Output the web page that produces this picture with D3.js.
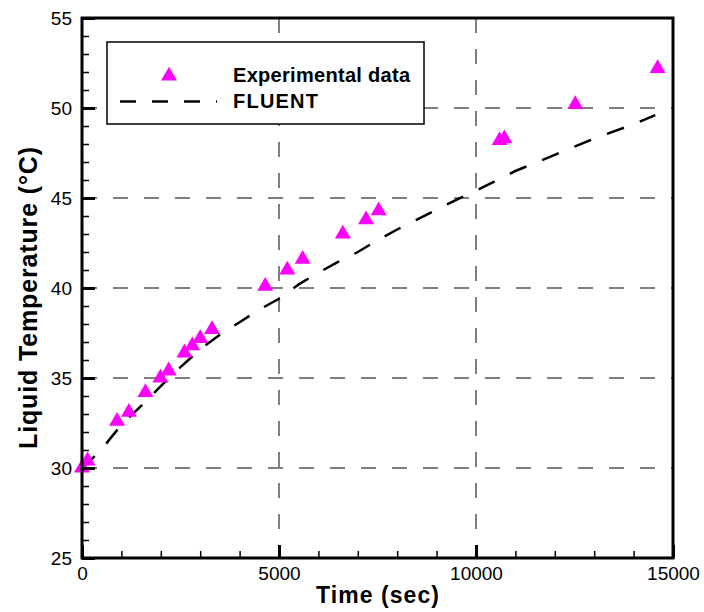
<!DOCTYPE html>
<html>
<head>
<meta charset="utf-8">
<script src="https://cdn.jsdelivr.net/npm/d3@7"></script>
<style>
  body { margin: 0; background: #fff; }
  text { font-family: Arial, "Liberation Sans", sans-serif; fill: #000; }
</style>
</head>
<body>
<div id="chart"></div>
<script>
// experimental points
const expTime = [0, 140, 890, 1190, 1610, 1990, 2200, 2600, 2800, 3000, 3300,
                 4650, 5210, 5600, 6620, 7210, 7530, 10600, 10720, 12520, 14610];
const expTemp = [30.0, 30.4, 32.6, 33.1, 34.2, 35.0, 35.4, 36.4, 36.8, 37.2, 37.7,
                 40.1, 41.0, 41.6, 43.0, 43.8, 44.3, 48.2, 48.3, 50.2, 52.2];

// FLUENT curve
const fluentTime = [0, 500, 1000, 1500, 2000, 2500, 3000, 3500, 4000, 4500, 5000,
                    5500, 6000, 6500, 7000, 7500, 8000, 8500, 9000, 9500, 10000,
                    10500, 11000, 11500, 12000, 12500, 13000, 13500, 14000, 14550];
const fluentTemp = [29.95, 31.05, 32.4, 33.45, 34.55, 35.6, 36.6, 37.4, 38.1, 38.8, 39.4,
                    40.2, 40.85, 41.45, 42.0, 42.65, 43.25, 43.8, 44.35, 44.9, 45.4,
                    45.95, 46.5, 46.95, 47.4, 47.85, 48.3, 48.7, 49.1, 49.6];

const xTicks = [0, 5000, 10000, 15000];
const yTicks = [25, 30, 35, 40, 45, 50, 55];

const width = 704, height = 612;
const plotLeft = 82, plotRight = 673, plotTop = 18, plotBottom = 558;

const svg = d3.select("#chart").append("svg")
    .attr("width", width)
    .attr("height", height);

const x = d3.scaleLinear().domain([0, 15000]).range([plotLeft, plotRight]);
const y = d3.scaleLinear().domain([25, 55]).range([plotBottom, plotTop]);

// grid
const grid = svg.append("g")
    .attr("stroke", "#555")
    .attr("stroke-width", 1.5)
    .attr("stroke-dasharray", "15,16");

grid.selectAll(".gx")
    .data(xTicks.slice(1, -1))
    .enter().append("line")
    .attr("x1", d => x(d)).attr("x2", d => x(d))
    .attr("y1", plotTop).attr("y2", plotBottom);

grid.selectAll(".gy")
    .data(yTicks.slice(1, -1))
    .enter().append("line")
    .attr("x1", plotLeft).attr("x2", plotRight)
    .attr("y1", d => y(d)).attr("y2", d => y(d));

// FLUENT line
const fluent = fluentTime.map((t, i) => ({ t: t, v: fluentTemp[i] }));
const line = d3.line().x(d => x(d.t)).y(d => y(d.v));

svg.append("path")
    .datum(fluent)
    .attr("d", line)
    .attr("fill", "none")
    .attr("stroke", "#000")
    .attr("stroke-width", 2.5)
    .attr("stroke-dasharray", "18,17");

// experimental triangles
const tri = d3.symbol().type(d3.symbolTriangle).size(110);
const pts = expTime.map((t, i) => ({ t: t, v: expTemp[i] }));

svg.selectAll(".pt")
    .data(pts)
    .enter().append("path")
    .attr("d", tri)
    .attr("transform", d => `translate(${x(d.t)},${y(d.v)})`)
    .attr("fill", "#ff00ff");

// legend
const lg = svg.append("g");
lg.append("rect")
    .attr("x", 107).attr("y", 42)
    .attr("width", 317).attr("height", 82)
    .attr("fill", "#fff")
    .attr("stroke", "#000")
    .attr("stroke-width", 1.5);
lg.append("path")
    .attr("d", tri)
    .attr("transform", "translate(169,76)")
    .attr("fill", "#ff00ff");
lg.append("line")
    .attr("x1", 120).attr("x2", 217)
    .attr("y1", 101.5).attr("y2", 101.5)
    .attr("stroke", "#000")
    .attr("stroke-width", 2.5)
    .attr("stroke-dasharray", "16,16");
lg.append("text")
    .attr("x", 233).attr("y", 82)
    .attr("textLength", 177)
    .style("font-size", "20px")
    .style("font-weight", "bold")
    .text("Experimental data");
lg.append("text")
    .attr("x", 233).attr("y", 108)
    .attr("textLength", 85)
    .style("font-size", "20px")
    .style("font-weight", "bold")
    .text("FLUENT");

// axes
const xAxis = svg.append("g")
    .attr("transform", `translate(0,${plotBottom})`)
    .call(d3.axisBottom(x).tickValues(xTicks).tickSize(-13).tickPadding(9).tickFormat(d3.format("d")));
svg.append("g")
    .attr("transform", `translate(0,${plotBottom})`)
    .call(d3.axisBottom(x).tickValues(d3.range(0, 15001, 1000)).tickSize(-7).tickFormat(""));

const yAxis = svg.append("g")
    .attr("transform", `translate(${plotLeft},0)`)
    .call(d3.axisLeft(y).tickValues(yTicks).tickSize(-13).tickPadding(10));
svg.append("g")
    .attr("transform", `translate(${plotLeft},0)`)
    .call(d3.axisLeft(y).tickValues(d3.range(25, 55.1, 1)).tickSize(-7).tickFormat(""));

svg.selectAll(".domain").remove();
svg.selectAll(".tick line").attr("stroke", "#000").attr("stroke-width", 1.5);
xAxis.selectAll(".tick line").attr("stroke-width", 3);
yAxis.selectAll(".tick line").attr("stroke-width", 3);
svg.selectAll(".tick text")
    .style("font-size", "19px")
    .style("font-family", "Arial, 'Liberation Sans', sans-serif")
    .attr("fill", "#000");

// frame
svg.append("rect")
    .attr("x", plotLeft).attr("y", plotTop)
    .attr("width", plotRight - plotLeft).attr("height", plotBottom - plotTop)
    .attr("fill", "none")
    .attr("stroke", "#000")
    .attr("stroke-width", 3);

// axis titles
svg.append("text")
    .attr("x", (plotLeft + plotRight) / 2).attr("y", 603)
    .attr("text-anchor", "middle")
    .attr("textLength", 123)
    .style("font-size", "23px")
    .style("font-weight", "bold")
    .text("Time (sec)");

svg.append("text")
    .attr("transform", "translate(37,298) rotate(-90)")
    .attr("text-anchor", "middle")
    .attr("textLength", 302)
    .style("font-size", "25px")
    .style("font-weight", "bold")
    .text("Liquid Temperature (°C)");
</script>
</body>
</html>
